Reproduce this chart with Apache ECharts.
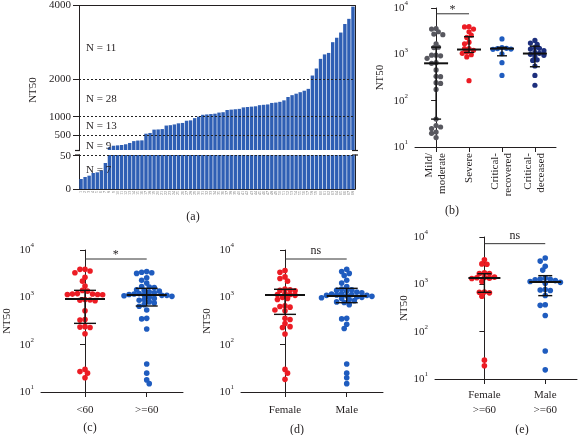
<!DOCTYPE html>
<html><head><meta charset="utf-8">
<script src="https://cdn.jsdelivr.net/npm/echarts@6/dist/echarts.min.js"></script>
<style>html,body{margin:0;padding:0;background:#fff}#c{width:586px;height:435px}</style>
</head><body><div id="c"></div>
<script>
// ---------------- DATA ----------------
// Panel (a): sorted NT50 per patient
const barIds = ['1','2','3','4','5','6','7','8','9','10','11','12','13','14','15','16','17','18','19','20','21','22','23','24','25','26','27','28','29','30','31','32','33','34','35','36','37','38','39','40','41','42','43','44','45','46','47','48','49','50','51','52','53','54','55','56','57','58','59','60','61','62','63','64','65','66','67','68'];
const barValues = [15,18,20,24,25,28,39,
  175,215,225,235,255,290,340,355,360,
  540,560,650,655,665,760,770,790,820,830,890,900,960,
  1000,1050,1060,1070,1080,1110,1120,1180,1190,1200,1210,1250,1260,1270,1280,1310,1320,1330,1370,1380,1400,1440,1530,1580,1620,1660,1700,1750,
  2110,2300,2560,2680,2720,3010,3130,3270,3500,3640,3970];
const aTopTicks = [500,1000,2000,4000];
const aBottomTicks = [0,50];
const aGroupLabels = ['N = 11','N = 28','N = 13','N = 9','N = 7'];

// Panel (b)
const bCats = ['Mild/\nmoderate','Severe','Critical-\nrecovered','Critical-\ndeceased'];
const bMild = [3610,3500,3070,2740,2650,1690,1430,1400,960,960,930,820,660,640,460,335,330,245,235,175,40,29,27,25,21,19.7,16];
const bSevere = [3960,3900,3500,3070,2600,2320,1830,1690,1330,1330,1220,1120,1050,980,880,270];
const bCritRec = [2150,1400,1350,1330,1300,1280,1030,660,350];
const bCritDec = [2000,1750,1650,1400,1350,1300,1200,1100,1050,1000,950,900,760,740,560,350,215];
const bMedian = [640,1270,1330,1040];
const bQ1 = [40,1100,930,540];
const bQ3 = [1430,2400,1410,1500];

// Panel (c)
const cCats = ['<60','>=60'];
const cLt60 = [3900,3900,3600,3300,2650,2200,1740,1400,1350,1200,1180,1170,1150,1150,1130,900,880,870,850,520,340,330,240,235,230,170,30,27,25,20];
const cGe60 = [3500,3400,3300,3200,2600,2300,2000,1700,1650,1600,1450,1400,1350,1300,1250,1200,1180,1150,1120,1100,1100,1080,1050,1000,950,900,870,800,760,700,650,540,360,350,215,39,25,18,15];
const cMedian = [923,1120];
const cQ1 = [282,656];
const cQ3 = [1406,1550];

// Panel (d)
const dCats = ['Female','Male'];
const dFemale = [3700,3400,2700,2500,2200,1500,1450,1400,1380,1200,1150,1150,1100,1000,950,900,660,640,620,540,520,360,340,280,240,230,168,30,25,18.5];
const dMale = [3900,3500,3200,2900,2300,2000,1700,1500,1450,1400,1350,1300,1250,1200,1180,1150,1120,1100,1100,1080,1050,1020,1000,980,950,900,850,800,780,700,360,350,270,220,39,25,20,15];
const dMedian = [1120,1070];
const dQ1 = [437,772];
const dQ3 = [1480,1550];

// Panel (e)
const eCats = ['Female\n>=60','Male\n>=60'];
const eFemale = [3300,2700,2650,1750,1700,1680,1420,1400,1380,1350,1330,1150,690,680,660,560,25,19];
const eMale = [3600,3100,2400,2000,1350,1300,1280,1250,1200,1150,1100,1050,780,760,740,580,370,360,220,39,15.6];
const eMedian = [1360,1120];
const eQ1 = [678,577];
const eQ3 = [1680,1525];

const sigTexts = ['*','*','ns','ns'];
const sigLevels = [7500,6450,6450,7230];
const panelLabels = ['(a)','(b)','(c)','(d)','(e)'];
const yTitle = 'NT50';

// ---------------- STYLE / LAYOUT ----------------
const FONT = '"Liberation Serif","DejaVu Serif",serif';
const TXT = '#231f20';
const RED = '#ec1c24', BLUE = '#1f5cbf', NAVY = '#1d2f7d', GREY = '#58585f', BARBLUE = '#2f5fb4';

const chart = echarts.init(document.getElementById('c'), null, {renderer:'canvas'});

const grids = [
  {left:79, top:5, width:276, height:145},   // a top
  {left:79, top:155, width:276, height:34},  // a bottom
  {left:415, top:5, width:141, height:142},  // b
  {left:41, top:250, width:142, height:142}, // c
  {left:241, top:250, width:142, height:142},// d
  {left:435, top:237, width:142, height:142} // e
];
const xr = {
  b:[-0.64,3.64], c:[-0.713,1.588], d:[-0.713,1.588], e:[-0.812,1.522]
};

function swarm(values, pxUnit, pxDec, d){
  const order = values.map((v,i)=>i).sort((a,b)=>values[b]-values[a]);
  const placed = [];
  const off = new Array(values.length).fill(0);
  let flip = 1;
  order.forEach(i=>{
    const y = Math.log10(values[i])*pxDec;
    for(let k=0;k<60;k++){
      const cands = k===0?[0]:[flip*k*d*0.45, -flip*k*d*0.45];
      let found = null;
      for(const cx of cands){
        if(placed.every(p=>Math.hypot(p[0]-cx,p[1]-y) >= d*0.8)){ found = cx; break; }
      }
      if(found!==null){ placed.push([found,y]); off[i]=found/pxUnit; flip=-flip; break; }
    }
  });
  return off;
}
function swarmData(values, cat, key, gi, d){
  const g = grids[gi];
  const pxUnit = g.width/(xr[key][1]-xr[key][0]);
  const pxDec = g.height/3;
  const off = swarm(values, pxUnit, pxDec, d);
  return values.map((v,i)=>[cat+off[i], v]);
}
function supLabel(v){ const e = Math.round(Math.log10(v)); return '10{s|'+e+'}'; }
function logY(gi, gap){
  return {
    type:'log', logBase:10, min:10, max:10000, gridIndex:gi,
    name:yTitle, nameLocation:'middle', nameGap:gap,
    nameTextStyle:{fontFamily:FONT, fontSize:11, color:TXT},
    axisLine:{show:true, lineStyle:{color:TXT, width:1}},
    axisTick:{show:true, length:5, lineStyle:{color:TXT}},
    minorTick:{show:false}, splitLine:{show:false},
    axisLabel:{formatter:supLabel, color:TXT, fontFamily:FONT, fontSize:11, margin:7, lineHeight:16,
      rich:{s:{fontSize:7, fontFamily:FONT, color:TXT, verticalAlign:'top', lineHeight:9}}}
  };
}
function catX(gi, key, cats, rotate, margin){
  return {
    type:'value', gridIndex:gi, min:xr[key][0], max:xr[key][1],
    axisLine:{show:true, onZero:false, lineStyle:{color:TXT, width:1}},
    axisTick:{show:true, length:5, customValues:cats.map((c,i)=>i), lineStyle:{color:TXT}},
    splitLine:{show:false},
    axisLabel:{customValues:cats.map((c,i)=>i), formatter:(v)=>cats[Math.round(v)]||'',
      rotate:rotate, margin:margin, color:TXT, fontFamily:FONT, fontSize:11, lineHeight:rotate?13:15}
  };
}
function errSeries(xi, yi, med, q1, q3, medHalf, capHalf){
  return {
    type:'custom', xAxisIndex:xi, yAxisIndex:yi, z:5, silent:true, clip:false,
    encode:{x:0, y:[1,2,3]},
    data: med.map((m,i)=>[i, m, q1[i], q3[i]]),
    renderItem:(params, api)=>{
      const x = api.value(0);
      const pm = api.coord([x, api.value(1)]);
      const pl = api.coord([x, api.value(2)]);
      const ph = api.coord([x, api.value(3)]);
      const st = {stroke:'#111', lineWidth:1.4};
      return {type:'group', children:[
        {type:'line', shape:{x1:pm[0]-medHalf,y1:pm[1],x2:pm[0]+medHalf,y2:pm[1]}, style:{stroke:'#111', lineWidth:2}},
        {type:'line', shape:{x1:pl[0],y1:pl[1],x2:ph[0],y2:ph[1]}, style:st},
        {type:'line', shape:{x1:pl[0]-capHalf,y1:pl[1],x2:pl[0]+capHalf,y2:pl[1]}, style:st},
        {type:'line', shape:{x1:ph[0]-capHalf,y1:ph[1],x2:ph[0]+capHalf,y2:ph[1]}, style:st}
      ]};
    }
  };
}
function sigSeries(xi, yi, k){
  return {
    type:'custom', xAxisIndex:xi, yAxisIndex:yi, z:5, silent:true, clip:false,
    encode:{x:[0,1], y:2},
    data:[[0,1,sigLevels[k]]],
    renderItem:(params, api)=>{
      const p0 = api.coord([api.value(0), api.value(2)]);
      const p1 = api.coord([api.value(1), api.value(2)]);
      const t = sigTexts[k];
      const star = t==='*';
      return {type:'group', children:[
        {type:'line', shape:{x1:p0[0],y1:p0[1],x2:p1[0],y2:p1[1]}, style:{stroke:'#333', lineWidth:1}},
        {type:'text', x:(p0[0]+p1[0])/2, y: star ? p0[1]-4 : p0[1]-2,
          style:{text:t, textAlign:'center', textVerticalAlign: star?'middle':'bottom', font:'12px '+FONT, fill:TXT}}
      ]};
    }
  };
}
function scat(xi, yi, data, color, size){
  return {type:'scatter', xAxisIndex:xi, yAxisIndex:yi, data:data, symbolSize:size, z:3,
    itemStyle:{color:color, opacity:1}, silent:true};
}

const dotlineStyle = {type:[2,2], color:'#222', width:1};
const plainNum = (v)=>String(v);

const option = {
  animation:false,
  textStyle:{fontFamily:FONT},
  grid: grids.map(g=>Object.assign({containLabel:false}, g)),
  xAxis:[
    {type:'category', gridIndex:0, data:barIds, position:'top',
      axisLine:{show:true, lineStyle:{color:TXT}}, axisTick:{show:false}, axisLabel:{show:false}},
    {type:'category', gridIndex:1, data:barIds, position:'bottom',
      axisLine:{show:true, lineStyle:{color:TXT}}, axisTick:{show:false},
      axisLabel:{interval:0, rotate:90, fontSize:4, margin:2, color:'#777', fontFamily:FONT}},
    catX(2,'b',bCats,90,6),
    catX(3,'c',cCats,0,11),
    catX(4,'d',dCats,0,11),
    catX(5,'e',eCats,0,9)
  ],
  yAxis:[
    {type:'value', gridIndex:0, min:100, max:4000,
      axisLine:{show:true, lineStyle:{color:TXT}},
      axisTick:{show:true, length:6, customValues:aTopTicks, lineStyle:{color:TXT}},
      axisLabel:{customValues:aTopTicks, formatter:plainNum, color:TXT, fontFamily:FONT, fontSize:11, margin:8},
      splitLine:{show:false}},
    {type:'value', gridIndex:0, min:100, max:4000, position:'right',
      axisLine:{show:true, lineStyle:{color:TXT}}, axisTick:{show:false}, axisLabel:{show:false}, splitLine:{show:false}},
    {type:'value', gridIndex:1, min:0, max:51,
      axisLine:{show:true, lineStyle:{color:TXT}},
      axisTick:{show:true, length:6, customValues:aBottomTicks, lineStyle:{color:TXT}},
      axisLabel:{customValues:aBottomTicks, formatter:plainNum, color:TXT, fontFamily:FONT, fontSize:11, margin:8},
      splitLine:{show:false}},
    {type:'value', gridIndex:1, min:0, max:51, position:'right',
      axisLine:{show:true, lineStyle:{color:TXT}}, axisTick:{show:false}, axisLabel:{show:false}, splitLine:{show:false}},
    logY(2, 29),
    logY(3, 28),
    logY(4, 28),
    logY(5, 24)
  ],
  series:[
    {type:'bar', xAxisIndex:0, yAxisIndex:0, data:barValues, clip:true, barCategoryGap:'16%',
      itemStyle:{color:BARBLUE}, silent:true,
      markLine:{silent:true, symbol:['none','none'], label:{show:false}, lineStyle:dotlineStyle,
        data: aTopTicks.filter(v=>v<4000).map(v=>({yAxis:v}))}},
    {type:'bar', xAxisIndex:1, yAxisIndex:2, data:barValues, clip:true, barCategoryGap:'16%',
      itemStyle:{color:BARBLUE}, silent:true,
      markLine:{silent:true, symbol:['none','none'], label:{show:false}, lineStyle:dotlineStyle,
        data: aBottomTicks.filter(v=>v>0).map(v=>({yAxis:v}))}},
    // (b)
    scat(2,4, swarmData(bMild,0,'b',2,5), GREY, 5.2),
    scat(2,4, swarmData(bSevere,1,'b',2,5), RED, 5.2),
    scat(2,4, swarmData(bCritRec,2,'b',2,5), BLUE, 5.2),
    scat(2,4, swarmData(bCritDec,3,'b',2,5), NAVY, 5.2),
    errSeries(2,4,bMedian,bQ1,bQ3,12,5),
    sigSeries(2,4,0),
    // (c)
    scat(3,5, swarmData(cLt60,0,'c',3,5.6), RED, 5.6),
    scat(3,5, swarmData(cGe60,1,'c',3,5.6), BLUE, 5.6),
    errSeries(3,5,cMedian,cQ1,cQ3,20,11),
    sigSeries(3,5,1),
    // (d)
    scat(4,6, swarmData(dFemale,0,'d',4,5.6), RED, 5.6),
    scat(4,6, swarmData(dMale,1,'d',4,5.6), BLUE, 5.6),
    errSeries(4,6,dMedian,dQ1,dQ3,20,11),
    sigSeries(4,6,2),
    // (e)
    scat(5,7, swarmData(eFemale,0,'e',5,5.6), RED, 5.6),
    scat(5,7, swarmData(eMale,1,'e',5,5.6), BLUE, 5.6),
    errSeries(5,7,eMedian,eQ1,eQ3,16,7),
    sigSeries(5,7,3)
  ],
  graphic:[
    {type:'text', x:33, y:90, rotation:Math.PI/2, style:{text:yTitle, textAlign:'center', textVerticalAlign:'middle', font:'11px '+FONT, fill:TXT}},
    {type:'text', x:86, y:48, z:100, style:{text:aGroupLabels[0], textVerticalAlign:'middle', font:'11px '+FONT, fill:TXT}},
    {type:'text', x:86, y:99, z:100, style:{text:aGroupLabels[1], textVerticalAlign:'middle', font:'11px '+FONT, fill:TXT}},
    {type:'text', x:86, y:126, z:100, style:{text:aGroupLabels[2], textVerticalAlign:'middle', font:'11px '+FONT, fill:TXT}},
    {type:'text', x:86, y:146, z:100, style:{text:aGroupLabels[3], textVerticalAlign:'middle', font:'11px '+FONT, fill:TXT}},
    {type:'text', x:86, y:170, z:100, style:{text:aGroupLabels[4], textVerticalAlign:'middle', font:'11px '+FONT, fill:TXT}},
    {type:'line', shape:{x1:75,y1:150.5,x2:80,y2:150.5}, style:{stroke:TXT, lineWidth:1.2}},
    {type:'line', shape:{x1:75,y1:155,x2:80,y2:155}, style:{stroke:TXT, lineWidth:1.2}},
    {type:'line', shape:{x1:352,y1:150.5,x2:358,y2:150.5}, style:{stroke:TXT, lineWidth:1.2}},
    {type:'line', shape:{x1:352,y1:155,x2:358,y2:155}, style:{stroke:TXT, lineWidth:1.2}},
    {type:'text', x:193, y:217, style:{text:panelLabels[0], textAlign:'center', textVerticalAlign:'middle', font:'12px '+FONT, fill:TXT}},
    {type:'text', x:452, y:211, style:{text:panelLabels[1], textAlign:'center', textVerticalAlign:'middle', font:'12px '+FONT, fill:TXT}},
    {type:'text', x:90, y:428, style:{text:panelLabels[2], textAlign:'center', textVerticalAlign:'middle', font:'12px '+FONT, fill:TXT}},
    {type:'text', x:297, y:430, style:{text:panelLabels[3], textAlign:'center', textVerticalAlign:'middle', font:'12px '+FONT, fill:TXT}},
    {type:'text', x:522, y:430, style:{text:panelLabels[4], textAlign:'center', textVerticalAlign:'middle', font:'12px '+FONT, fill:TXT}}
  ]
};
chart.setOption(option);
</script></body></html>
